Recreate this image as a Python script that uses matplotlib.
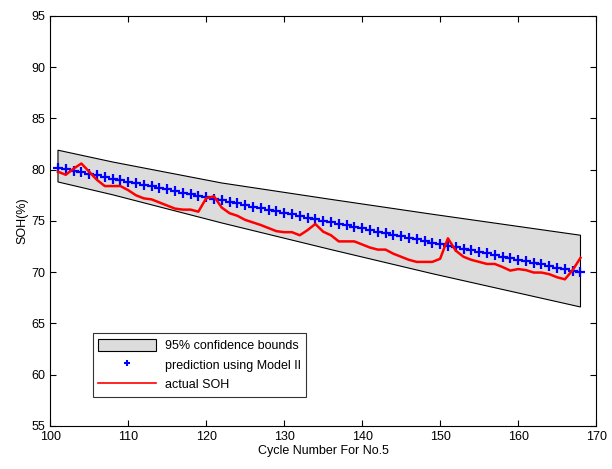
import matplotlib.pyplot as plt
import numpy as np
from matplotlib.patches import Patch
from matplotlib.lines import Line2D

plt.rcParams['font.family'] = ['Liberation Sans', 'DejaVu Sans']

cycles = list(range(101, 169))

actual_soh = [79.8, 79.5, 80.1, 80.6, 79.8, 79.0, 78.4, 78.4, 78.4, 78.0,
              77.5, 77.2, 77.1, 76.8, 76.5, 76.2, 76.1, 76.1, 75.9, 77.2,
              77.4, 76.3, 75.75, 75.5, 75.1, 74.85, 74.6, 74.3, 74.0, 73.9,
              73.9, 73.6, 74.1, 74.7, 73.95, 73.6, 73.0, 73.0, 73.0, 72.7,
              72.4, 72.2, 72.2, 71.8, 71.5, 71.2, 71.0, 71.0, 71.0, 71.3,
              73.3, 72.1, 71.5, 71.2, 71.0, 70.8, 70.8, 70.5, 70.15, 70.3,
              70.2, 69.96, 69.96, 69.8, 69.5, 69.3, 70.2, 71.4]

prediction = [80.20, 80.05, 79.90, 79.74, 79.59, 79.44, 79.29, 79.13, 78.98, 78.83,
              78.68, 78.53, 78.37, 78.22, 78.07, 77.92, 77.76, 77.61, 77.46, 77.31,
              77.15, 77.00, 76.85, 76.70, 76.54, 76.39, 76.24, 76.09, 75.94, 75.78,
              75.63, 75.48, 75.33, 75.17, 75.02, 74.87, 74.72, 74.56, 74.41, 74.26,
              74.11, 73.96, 73.80, 73.65, 73.50, 73.35, 73.19, 73.04, 72.89, 72.74,
              72.58, 72.43, 72.28, 72.13, 71.97, 71.82, 71.67, 71.52, 71.37, 71.21,
              71.06, 70.91, 70.76, 70.60, 70.45, 70.30, 70.15, 70.00]

band_x = [101, 108, 122, 136, 149, 168]
band_upper = [81.9, 80.75, 78.7, 77.1, 75.65, 73.6]
band_lower = [78.8, 77.55, 74.8, 72.2, 69.85, 66.6]

fig = plt.figure(figsize=(6.12, 4.69), dpi=100)
ax = fig.add_axes([0.082, 0.092, 0.892, 0.874])

poly_x = band_x + band_x[::-1]
poly_y = band_upper + band_lower[::-1]
ax.fill(poly_x, poly_y, facecolor='#dcdcdc', edgecolor='black', linewidth=0.8, zorder=1)

ax.plot(cycles, prediction, 'b+', markersize=7, markeredgewidth=1.6, zorder=2)
ax.plot(cycles, actual_soh, color='red', linewidth=1.8, zorder=3)

ax.set_xlim(100, 170)
ax.set_ylim(55, 95)
ax.set_xticks(range(100, 171, 10))
ax.set_yticks(range(55, 96, 5))
ax.tick_params(direction='in', top=True, right=True, labelsize=9, length=4)
ax.set_xlabel('Cycle Number For No.5', fontsize=9, labelpad=2)
ax.set_ylabel('SOH(%)', fontsize=9, labelpad=2)

handles = [Patch(facecolor='#dcdcdc', edgecolor='black', linewidth=0.8),
           Line2D([], [], color='blue', marker='+', linestyle='none', markersize=5, markeredgewidth=1.5),
           Line2D([], [], color='red', linewidth=1.2)]
labels = ['95% confidence bounds', 'prediction using Model II', 'actual SOH']
leg = ax.legend(handles, labels, loc='lower left', bbox_to_anchor=(0.078, 0.071),
                fontsize=9, frameon=True, fancybox=False, edgecolor='black',
                borderaxespad=0, handlelength=4.6, handleheight=1.1,
                labelspacing=0.5, borderpad=0.45, handletextpad=0.7)
leg.get_frame().set_linewidth(0.8)

fig.savefig('out.png', dpi=100)
